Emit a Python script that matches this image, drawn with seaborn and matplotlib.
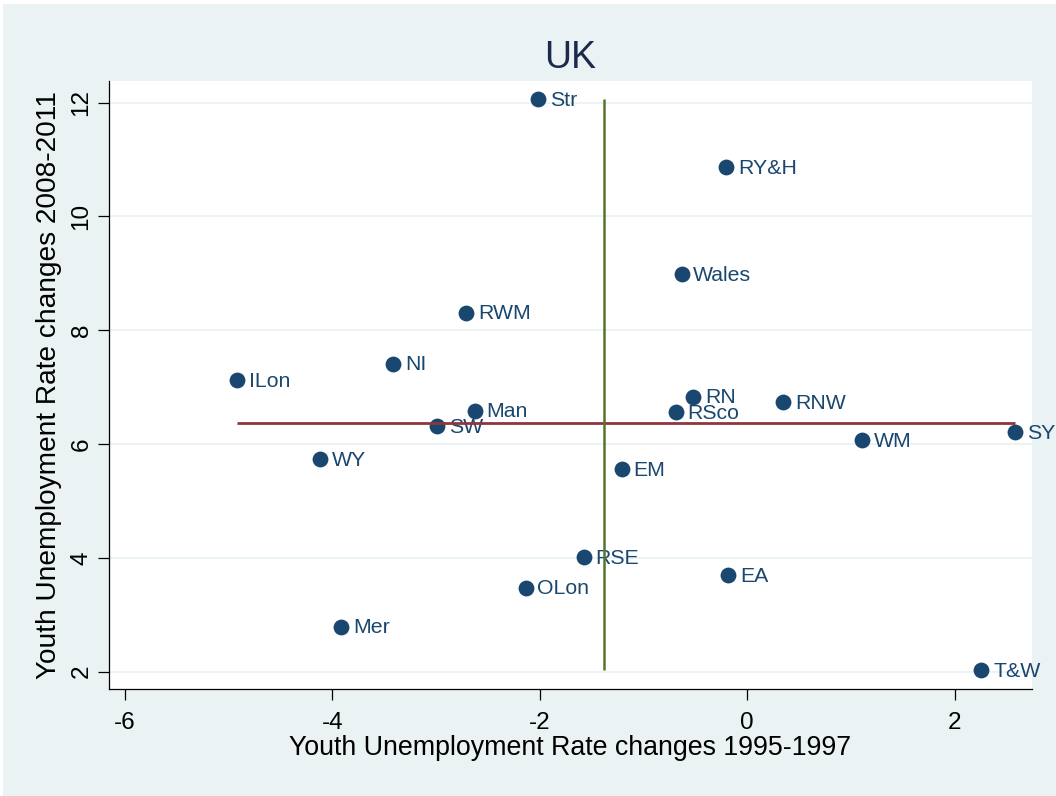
import numpy as np
import pandas as pd
import matplotlib
matplotlib.use("Agg")
import matplotlib.pyplot as plt
import seaborn as sns
from matplotlib.patches import Rectangle

# Youth unemployment rate changes by UK region
regions = ["Str", "RY&H", "Wales", "RWM", "NI", "ILon", "Man", "SW", "WY", "OLon",
           "Mer", "RSE", "RN", "RSco", "RNW", "WM", "SY", "EM", "EA", "T&W"]
change_1995_1997 = [-2.015, -0.205, -0.633, -2.71, -3.41, -4.914, -2.626, -2.986, -4.114, -2.137,
                    -3.915, -1.575, -0.521, -0.69, 0.347, 1.106, 2.584, -1.208, -0.183, 2.257]
change_2008_2011 = [12.065, 10.865, 8.984, 8.309, 7.413, 7.127, 6.587, 6.318, 5.733, 3.476,
                    2.791, 4.011, 6.833, 6.559, 6.740, 6.072, 6.213, 5.562, 3.699, 2.03]
x_ticks = [-6, -4, -2, 0, 2]
y_ticks = [2, 4, 6, 8, 10, 12]

df = pd.DataFrame({"region": regions, "x": change_1995_1997, "y": change_2008_2011})

NAVY = "#1A476F"
MAROON = "#90353B"
FOREST = "#55752F"
BG = "#EAF2F3"

sns.set_theme(style="white")
plt.rcParams["font.family"] = ["Liberation Sans", "DejaVu Sans"]

fig = plt.figure(figsize=(10.56, 7.96), dpi=100)
fig.patch.set_facecolor("white")
fig.patches.append(Rectangle((3 / 1056, 0), 1, 1 - 4 / 796, transform=fig.transFigure,
                             facecolor=BG, edgecolor="none", zorder=-10))

ax = fig.add_axes([108.5 / 1056, 1 - 689 / 796, (1032 - 108.5) / 1056, (689 - 81) / 796])
ax.set_facecolor("white")

sns.scatterplot(data=df, x="x", y="y", ax=ax, color=NAVY, s=130, linewidth=0, zorder=3)

for name, xv, yv in zip(df["region"], df["x"], df["y"]):
    ax.annotate(name, (xv, yv), xytext=(8.5, -0.8), textcoords="offset points",
                va="center", ha="left", fontsize=15.3, color=NAVY, zorder=3)

# Mean reference lines spanning the observed range
mx, my = df["x"].mean(), df["y"].mean()
ax.hlines(my, df["x"].min(), df["x"].max(), color=MAROON, lw=2.0, zorder=4)
ax.vlines(mx, df["y"].min(), df["y"].max(), color=FOREST, lw=1.8, zorder=4)

ax.set_xlim(-6.157, 2.745)
ax.set_ylim(1.696, 12.38)
ax.set_xticks(x_ticks)
ax.set_yticks(y_ticks)
ax.set_xticklabels([str(t) for t in x_ticks])
ax.set_yticklabels([str(t) for t in y_ticks], rotation=90, va="center")

ax.yaxis.grid(True, color=BG, lw=1.3)
ax.xaxis.grid(False)
ax.set_axisbelow(True)

for side in ["top", "right"]:
    ax.spines[side].set_visible(False)
for side in ["left", "bottom"]:
    ax.spines[side].set_color("black")
    ax.spines[side].set_linewidth(0.9)

ax.tick_params(axis="both", direction="out", length=8, width=0.9, color="black",
               labelsize=17.5, labelcolor="black", left=True, bottom=True)
ax.tick_params(axis="x", pad=8.5)
ax.tick_params(axis="y", pad=3.5)

ax.set_xlabel("Youth Unemployment Rate changes 1995-1997", fontsize=19.3, color="black", labelpad=1)
ax.set_ylabel("Youth Unemployment Rate changes 2008-2011", fontsize=20.2, color="black", labelpad=6)
ax.set_title("UK", fontsize=27, color="#1C2B4B", pad=9)

fig.savefig("out.png", dpi=100, facecolor=fig.get_facecolor())
